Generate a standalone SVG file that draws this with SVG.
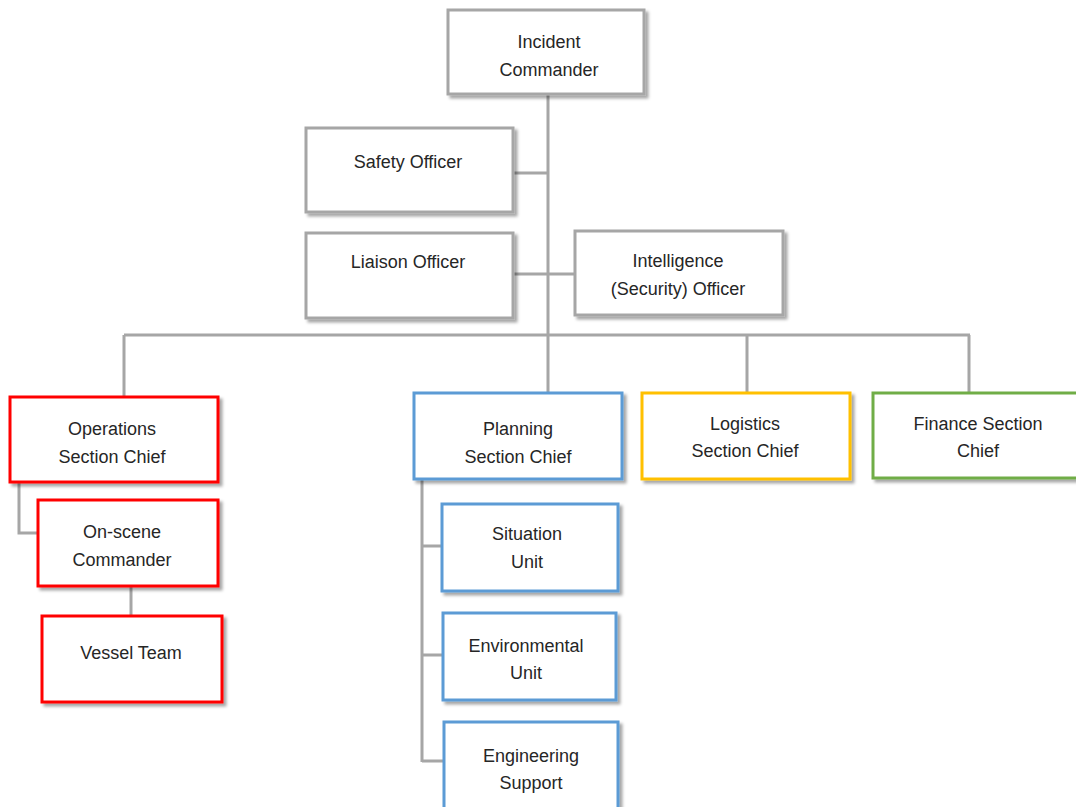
<svg xmlns="http://www.w3.org/2000/svg" width="1076" height="807" viewBox="0 0 1076 807">
<defs>
<filter id="sh" x="-10%" y="-10%" width="130%" height="130%">
<feDropShadow dx="3" dy="3" stdDeviation="1.6" flood-color="#000" flood-opacity="0.35"/>
</filter>
</defs>
<style>
rect{fill:#fff;stroke-width:3;filter:url(#sh)}
.g{stroke:#A6A6A6}
.r{stroke:#FF0000}
.b{stroke:#5B9BD5}
.y{stroke:#FFC000}
.gr{stroke:#70AD47}
text{font-family:"Liberation Sans",Arial,sans-serif;font-size:18px;fill:#262626;text-anchor:middle}
#connectors path{fill:none;stroke:#A6A6A6;stroke-width:3}
</style>
<rect width="1076" height="807" fill="#fff" style="filter:none;stroke:none"/>
<g id="connectors">
<path d="M548 94V393"/>
<path d="M513 173H548"/>
<path d="M513 274H575"/>
<path d="M124 335H970M124 335V396M747 335V393M969 335V393"/>
<path d="M19 482V533H38"/>
<path d="M131 586V616"/>
<path d="M422 479V762M422 546H442M422 655H443M422 761H444"/>
</g>
<g id="incident-commander"><rect class="g" x="448" y="10" width="196" height="84"/><text x="549" y="48">Incident</text><text x="549" y="76">Commander</text></g>
<g id="safety-officer"><rect class="g" x="306" y="128" width="207" height="84"/><text x="408" y="168">Safety Officer</text></g>
<g id="liaison-officer"><rect class="g" x="306" y="233" width="207" height="85"/><text x="408" y="268">Liaison Officer</text></g>
<g id="intelligence-officer"><rect class="g" x="575" y="231" width="208" height="84"/><text x="678" y="267">Intelligence</text><text x="678" y="295">(Security) Officer</text></g>
<g id="operations"><rect class="r" x="10" y="397" width="208" height="85"/><text x="112" y="435">Operations</text><text x="112" y="463">Section Chief</text></g>
<g id="on-scene"><rect class="r" x="38" y="500" width="180" height="86"/><text x="122" y="538">On-scene</text><text x="122" y="566">Commander</text></g>
<g id="vessel-team"><rect class="r" x="42" y="616" width="180" height="86"/><text x="131" y="659">Vessel Team</text></g>
<g id="planning"><rect class="b" x="414" y="393" width="208" height="86"/><text x="518" y="435">Planning</text><text x="518" y="463">Section Chief</text></g>
<g id="logistics"><rect class="y" x="642" y="393" width="208" height="86"/><text x="745" y="430">Logistics</text><text x="745" y="457">Section Chief</text></g>
<g id="finance"><rect class="gr" x="873" y="393" width="215" height="85"/><text x="978" y="430">Finance Section</text><text x="978" y="457">Chief</text></g>
<g id="situation-unit"><rect class="b" x="442" y="504" width="176" height="87"/><text x="527" y="540">Situation</text><text x="527" y="568">Unit</text></g>
<g id="environmental-unit"><rect class="b" x="443" y="613" width="173" height="87"/><text x="526" y="652">Environmental</text><text x="526" y="679">Unit</text></g>
<g id="engineering-support"><rect class="b" x="444" y="722" width="174" height="95"/><text x="531" y="762">Engineering</text><text x="531" y="789">Support</text></g>
</svg>
